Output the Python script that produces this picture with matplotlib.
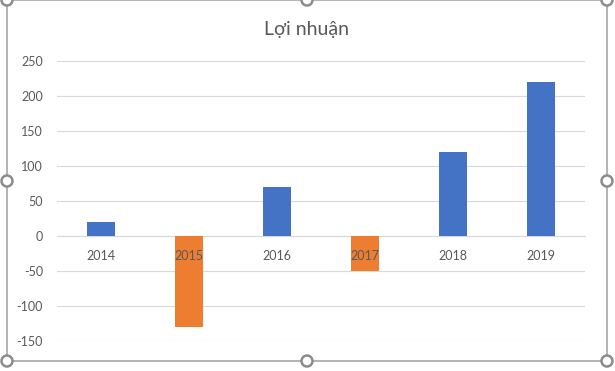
import matplotlib
matplotlib.use("Agg")
import matplotlib.pyplot as plt
from matplotlib.patches import Circle, Rectangle
from matplotlib.transforms import offset_copy

# ── data ──────────────────────────────────────────────────────────────────────
years = ["2014", "2015", "2016", "2017", "2018", "2019"]
profit = [20, -130, 70, -50, 120, 220]
y_ticks = [-150, -100, -50, 0, 50, 100, 150, 200, 250]

# ── style ─────────────────────────────────────────────────────────────────────
BLUE = "#4472C4"
ORANGE = "#ED7D31"
GRID = "#D9D9D9"
TXT = "#595959"
FONT = ["Lato", "Open Sans", "DejaVu Sans"]
plt.rcParams["font.family"] = FONT

W, H = 615, 371
fig = plt.figure(figsize=(W / 100, H / 100), dpi=100)
fig.patch.set_facecolor("white")

# plot area (pixel box: x 57..585, y 61..341)
ax = fig.add_axes([57 / W, (H - 341) / H, (585 - 57) / W, 280 / H])
colors = [BLUE if v >= 0 else ORANGE for v in profit]
ax.bar(range(len(years)), profit, width=0.31, color=colors, zorder=3)

ax.set_xlim(-0.5, len(years) - 0.5)
ax.set_ylim(y_ticks[0], y_ticks[-1])
ax.set_yticks(y_ticks)
ax.set_yticklabels([str(t) for t in y_ticks])
ax.grid(axis="y", color=GRID, lw=0.8, zorder=0)
ax.set_xticks([])
for s in ("top", "left", "right"):
    ax.spines[s].set_visible(False)
ax.spines["bottom"].set_position(("data", 0))
ax.spines["bottom"].set_color(GRID)
ax.spines["bottom"].set_linewidth(0.8)
ax.tick_params(axis="both", length=0, labelsize=9, labelcolor=TXT)
ax.tick_params(axis="y", pad=10)

# category labels sit just under the zero line, drawn over the bars
lab_tr = offset_copy(ax.transData, fig=fig, x=0, y=-20, units="dots")
for i, yr in enumerate(years):
    ax.text(i, 0, yr, transform=lab_tr, fontsize=9, color=TXT,
            ha="center", va="center", zorder=5)

fig.text(307 / W, 1 - 29 / H, "Lợi nhuận", fontsize=14, color=TXT,
         ha="center", va="center")

# ── selection frame + handles ────────────────────────────────────────────────
ov = fig.add_axes([0, 0, 1, 1], zorder=10)
ov.set_xlim(0, W)
ov.set_ylim(H, 0)
ov.axis("off")
ov.patch.set_alpha(0)
ov.add_patch(Rectangle((7, 0), 600, 361, fill=False, ec="#A6A6A6", lw=1.2))
for hx in (7, 307, 607):
    for hy in (0, 181, 361):
        if hx == 307 and hy == 181:
            continue
        ov.add_patch(Circle((hx, hy), 5.5, fc="white", ec="#8C8C8C", lw=1.8))

fig.savefig("out.png", dpi=100, facecolor="white")
